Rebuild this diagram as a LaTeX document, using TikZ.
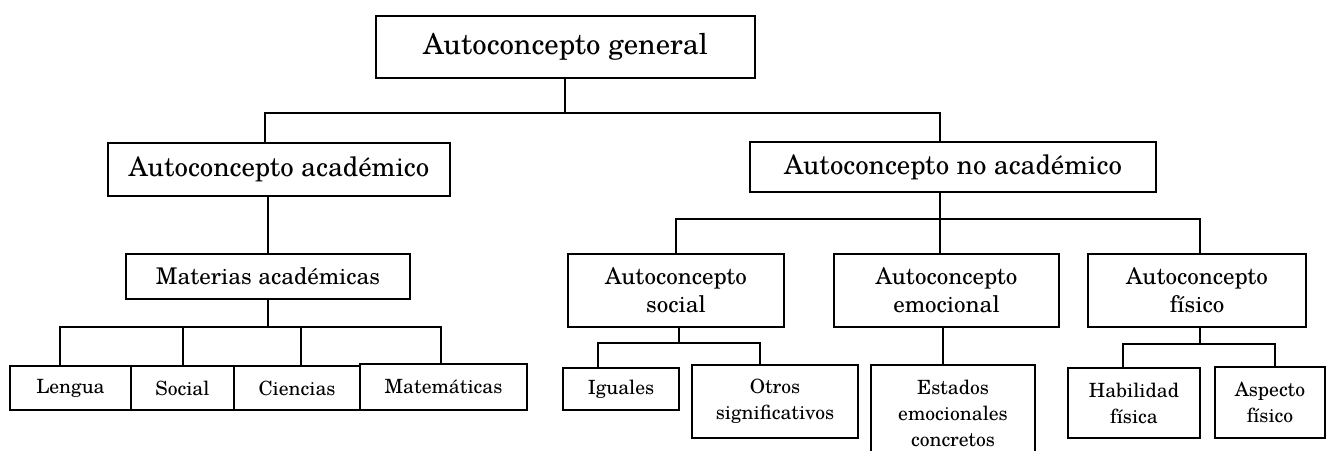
\documentclass[tikz,border=0pt]{standalone}
\usepackage{fontspec}
\setmainfont{TeX Gyre Schola}
\newcommand\Caja[7][]{%
    \node[caja,#1,minimum width={(#5-#3)*0.5pt},minimum height={(#6-#4)*0.5pt}]
        (#2) at ({(#3+#5)/2},{(#4+#6)/2}) {#7};
}
\tikzset{
    caja/.style={draw,line width=0.9pt,inner sep=0pt,align=center},
    grande/.style={font=\fontsize{13.4}{16}\selectfont},
    cima/.style={font=\fontsize{14.4}{17}\selectfont},
    medio/.style={font=\fontsize{11.5}{13.8}\selectfont},
    chico/.style={font=\fontsize{9.8}{13}\selectfont},
}

\begin{document}
\begin{tikzpicture}[x=0.5pt,y=-0.5pt,line width=0.8pt]
    \useasboundingbox (0,0) rectangle (1327,450);
    % niveles superiores
    \Caja[cima]{gen}{376}{16}{755}{78}{Autoconcepto general}
    \Caja[grande]{acad}{108}{143}{450}{196}{Autoconcepto académico}
    \Caja[grande]{noacad}{750}{142}{1156}{192}{Autoconcepto no académico}
    \Caja[medio]{mat}{126}{254}{410}{299}{Materias académicas}
    \Caja[medio]{soc}{568}{254}{784}{327}{Autoconcepto\\social}
    \Caja[medio]{emo}{834}{254}{1059}{327}{Autoconcepto\\emocional}
    \Caja[medio]{fis}{1088}{254}{1306}{327}{Autoconcepto\\físico}
    % hojas
    \Caja[chico]{len}{10}{366}{131}{410}{Lengua}
    \Caja[chico]{socl}{131}{366}{234}{410}{Social}
    \Caja[chico]{cie}{234}{366}{360}{410}{Ciencias}
    \Caja[chico]{mtm}{360}{364}{527}{410}{Matemáticas}
    \Caja[chico]{igu}{563}{368}{679}{410}{Iguales}
    \Caja[chico]{otr}{692}{365}{858}{438}{Otros\\significativos}
    \Caja[chico]{est}{871}{365}{1035}{462}{Estados\\emocionales\\concretos}
    \Caja[chico]{hab}{1068}{368}{1200}{438}{Habilidad\\física}
    \Caja[chico]{asp}{1215}{367}{1325}{438}{Aspecto\\físico}
    % ramas
    \coordinate (r0) at (565,113);
    \coordinate (r1a) at (265,113);
    \coordinate (r1b) at (940,113);
    \draw (r0 |- gen.south) -- (r0);
    \draw (acad.north -| r1a) -- (r1a) -- (r1b) -- (noacad.north -| r1b);
    \coordinate (r2) at (268,327);
    \draw (r2 |- acad.south) -- (r2 |- mat.north);
    \draw (r2 |- mat.south) -- (r2);
    \coordinate (r2a) at (60,327);
    \coordinate (r2b) at (183,327);
    \coordinate (r2c) at (301,327);
    \coordinate (r2d) at (441,327);
    \draw (len.north -| r2a) -- (r2a) -- (r2d) -- (mtm.north -| r2d);
    \draw (r2b) -- (socl.north -| r2b);
    \draw (r2c) -- (cie.north -| r2c);
    \coordinate (r3a) at (676,219);
    \coordinate (r3b) at (940,219);
    \coordinate (r3c) at (1200,219);
    \draw (r3b |- noacad.south) -- (r3b |- emo.north);
    \draw (soc.north -| r3a) -- (r3a) -- (r3c) -- (fis.north -| r3c);
    \coordinate (r4) at (679,343);
    \coordinate (r4a) at (598,343);
    \coordinate (r4b) at (760,343);
    \draw (r4 |- soc.south) -- (r4);
    \draw (igu.north -| r4a) -- (r4a) -- (r4b) -- (otr.north -| r4b);
    \coordinate (r6) at (943,343);
    \draw (r6 |- emo.south) -- (r6 |- est.north);
    \coordinate (r5) at (1200,344);
    \coordinate (r5a) at (1123,344);
    \coordinate (r5b) at (1275,344);
    \draw (r5 |- fis.south) -- (r5);
    \draw (hab.north -| r5a) -- (r5a) -- (r5b) -- (asp.north -| r5b);
\end{tikzpicture}
\end{document}
